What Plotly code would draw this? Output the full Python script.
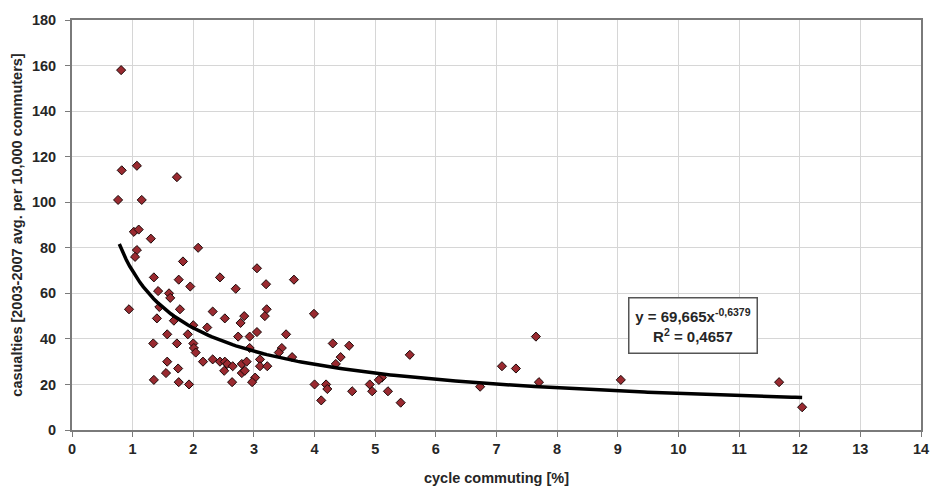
import plotly.graph_objects as go

# Scatter data: cycle commuting [%] vs casualties
x_values = [0.81, 0.82, 1.07, 0.76, 1.15, 1.73, 1.02, 1.10, 1.30, 1.07,
            1.04, 2.08, 1.83, 1.35, 1.76, 1.42, 1.95, 1.60, 1.62, 0.94,
            1.44, 1.78, 1.40, 1.68, 2.00, 2.23, 1.57, 1.91, 1.34, 1.73,
            2.00, 2.44, 3.05, 3.20, 3.66, 2.70, 2.32, 2.52, 3.21, 3.18,
            2.84, 2.78, 3.05, 2.74, 2.93, 3.53, 2.01, 3.46, 3.99, 4.30,
            4.57, 5.57, 7.65, 7.09, 7.32, 6.73, 7.70, 9.05, 5.11, 5.06,
            5.21, 5.42, 11.66, 12.04, 2.04, 1.57, 1.75, 1.55, 1.35, 1.76,
            1.93, 2.16, 2.32, 2.44, 2.52, 2.56, 2.51, 2.65, 2.64, 2.80,
            2.80, 2.85, 2.88, 3.41, 2.93, 3.63, 3.10, 3.10, 3.22, 3.02,
            2.97, 4.43, 4.35, 4.00, 4.19, 4.21, 4.11, 4.62, 4.91, 4.95]
y_values = [158, 114, 116, 101, 101, 111, 87, 88, 84, 79,
            76, 80, 74, 67, 66, 61, 63, 60, 58, 53,
            54, 53, 49, 48, 46, 45, 42, 42, 38, 38,
            38, 67, 71, 64, 66, 62, 52, 49, 53, 50,
            50, 47, 43, 41, 41, 42, 36, 36, 51, 38,
            37, 33, 41, 28, 27, 19, 21, 22, 23, 22,
            17, 12, 21, 10, 34, 30, 27, 25, 22, 21,
            20, 30, 31, 30, 30, 29, 26, 28, 21, 29,
            25, 26, 30, 34, 36, 32, 31, 28, 28, 23,
            21, 32, 29, 20, 20, 18, 13, 17, 20, 17]

# Power trendline as stated on the chart: y = a * x^b
fit_a = 69.665
fit_b = -0.6379
fit_r2 = 0.4657
fit_x_start = 0.78
fit_x_end = 12.04

x_ticks = list(range(0, 15))
y_ticks = list(range(0, 181, 20))

n = 200
fit_x = [fit_x_start + (fit_x_end - fit_x_start) * i / (n - 1) for i in range(n)]
fit_y = [fit_a * xx ** fit_b for xx in fit_x]

FONT = "Liberation Sans, Arial, sans-serif"
TXT = "#262626"

fig = go.Figure()
fig.add_trace(go.Scatter(
    x=x_values, y=y_values, mode="markers",
    marker=dict(symbol="diamond", size=7, color="#9A2A30",
                line=dict(color="#1a0808", width=1)),
    showlegend=False, hoverinfo="x+y"))
fig.add_trace(go.Scatter(
    x=fit_x, y=fit_y, mode="lines",
    line=dict(color="black", width=3.5),
    showlegend=False, hoverinfo="skip"))

fig.update_layout(
    width=930, height=488,
    margin=dict(l=72, r=9, t=20, b=58),
    paper_bgcolor="white", plot_bgcolor="white",
    font=dict(family=FONT, color=TXT, size=13, weight="bold"),
    xaxis=dict(range=[0, 14], tickvals=x_ticks, ticktext=[str(v) for v in x_ticks],
               automargin=False, ticklabeloverflow="allow",
               showgrid=True, gridcolor="#d6d6d6", gridwidth=1,
               showline=True, linecolor="#7a7a7a", linewidth=2, mirror=True,
               ticks="outside", ticklen=5, tickcolor="#7a7a7a",
               tickfont=dict(family=FONT, size=14.5, color=TXT, weight="bold"),
               zeroline=False,
               title=dict(text="cycle commuting [%]", standoff=16,
                          font=dict(family=FONT, size=14.5, color=TXT, weight="bold"))),
    yaxis=dict(range=[0, 180], tickvals=y_ticks, ticktext=[str(v) for v in y_ticks],
               automargin=False, ticklabelstandoff=6,
               showgrid=True, gridcolor="#d6d6d6", gridwidth=1,
               showline=True, linecolor="#7a7a7a", linewidth=2, mirror=True,
               ticks="outside", ticklen=5, tickcolor="#7a7a7a",
               tickfont=dict(family=FONT, size=14.5, color=TXT, weight="bold"),
               zeroline=False,
               title=dict(text="casualties [2003-2007 avg. per 10,000 commuters]", standoff=6,
                          font=dict(family=FONT, size=14.5, color=TXT, weight="bold"))),
    annotations=[dict(
        x=10.24, y=45.7, xref="x", yref="y", showarrow=False,
        text=("y = " + f"{fit_a:.3f}".replace(".", ",") + "x<sup>" +
              f"{fit_b:.4f}".replace(".", ",") + "</sup><br>R<sup>2</sup> = " +
              f"{fit_r2:.4f}".replace(".", ",")),
        font=dict(family=FONT, size=15, color=TXT, weight="bold"),
        width=119, height=46,
        bgcolor="white", bordercolor="#555555", borderwidth=1.5, borderpad=4,
        align="center", valign="middle")],
)

fig.write_html(
    "out.html",
    config={"displayModeBar": False},
    post_script="document.body.style.margin='0';document.body.style.overflow='hidden';")
